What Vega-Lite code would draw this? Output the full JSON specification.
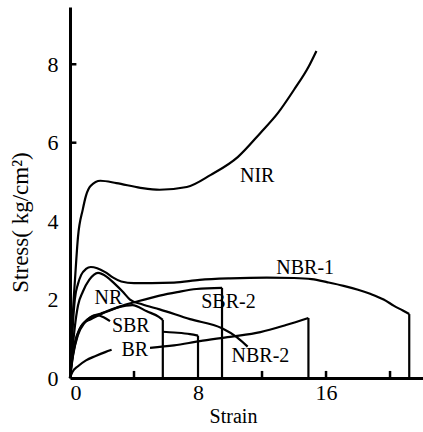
{
  "$schema": "https://vega.github.io/schema/vega-lite/v6.json",
  "width": 353,
  "height": 371,
  "autosize": {"type": "none"},
  "padding": {"left": 70, "top": 7, "right": 0, "bottom": 54},
  "background": "white",
  "config": {
    "view": {"stroke": null},
    "font": "Liberation Serif, DejaVu Serif, serif",
    "axis": {
      "grid": false,
      "ticks": false,
      "tickSize": 0,
      "domainColor": "black",
      "domainWidth": 3,
      "labelColor": "black",
      "labelFont": "Liberation Serif, DejaVu Serif, serif",
      "labelFontSize": 22,
      "titleColor": "black",
      "titleFont": "Liberation Serif, DejaVu Serif, serif",
      "titleFontWeight": "normal"
    }
  },
  "datasets": {
    "curves": [
      {"c": "NIR", "x": 0, "y": 0},
      {"c": "NIR", "x": 0.1, "y": 0.9},
      {"c": "NIR", "x": 0.2, "y": 1.8},
      {"c": "NIR", "x": 0.31, "y": 2.5},
      {"c": "NIR", "x": 0.5, "y": 3.6},
      {"c": "NIR", "x": 0.8, "y": 4.3},
      {"c": "NIR", "x": 1.0, "y": 4.65},
      {"c": "NIR", "x": 1.3, "y": 4.9},
      {"c": "NIR", "x": 1.9, "y": 5.03},
      {"c": "NIR", "x": 2.9, "y": 4.97},
      {"c": "NIR", "x": 4.4, "y": 4.85},
      {"c": "NIR", "x": 5.6, "y": 4.8},
      {"c": "NIR", "x": 7.3, "y": 4.87},
      {"c": "NIR", "x": 8.8, "y": 5.18},
      {"c": "NIR", "x": 10.5, "y": 5.64},
      {"c": "NIR", "x": 11.9, "y": 6.25},
      {"c": "NIR", "x": 13.0, "y": 6.76},
      {"c": "NIR", "x": 14.0, "y": 7.35},
      {"c": "NIR", "x": 14.9, "y": 7.93},
      {"c": "NIR", "x": 15.4, "y": 8.34},

      {"c": "NBR-1", "x": 0, "y": 0},
      {"c": "NBR-1", "x": 0.1, "y": 0.8},
      {"c": "NBR-1", "x": 0.2, "y": 1.5},
      {"c": "NBR-1", "x": 0.3, "y": 2.0},
      {"c": "NBR-1", "x": 0.5, "y": 2.4},
      {"c": "NBR-1", "x": 0.7, "y": 2.63},
      {"c": "NBR-1", "x": 1.0, "y": 2.78},
      {"c": "NBR-1", "x": 1.3, "y": 2.83},
      {"c": "NBR-1", "x": 1.7, "y": 2.8},
      {"c": "NBR-1", "x": 2.2, "y": 2.7},
      {"c": "NBR-1", "x": 2.7, "y": 2.56},
      {"c": "NBR-1", "x": 3.2, "y": 2.46},
      {"c": "NBR-1", "x": 4.0, "y": 2.42},
      {"c": "NBR-1", "x": 5.1, "y": 2.42},
      {"c": "NBR-1", "x": 6.5, "y": 2.43},
      {"c": "NBR-1", "x": 8.1, "y": 2.5},
      {"c": "NBR-1", "x": 10.0, "y": 2.54},
      {"c": "NBR-1", "x": 12.3, "y": 2.56},
      {"c": "NBR-1", "x": 14.0, "y": 2.55},
      {"c": "NBR-1", "x": 15.1, "y": 2.52},
      {"c": "NBR-1", "x": 16.1, "y": 2.44},
      {"c": "NBR-1", "x": 17.1, "y": 2.35},
      {"c": "NBR-1", "x": 18.0, "y": 2.25},
      {"c": "NBR-1", "x": 18.8, "y": 2.14},
      {"c": "NBR-1", "x": 19.6, "y": 2.0},
      {"c": "NBR-1", "x": 20.25, "y": 1.84},
      {"c": "NBR-1", "x": 20.8, "y": 1.72},
      {"c": "NBR-1", "x": 21.2, "y": 1.63},

      {"c": "NBR-2", "x": 0, "y": 0},
      {"c": "NBR-2", "x": 0.15, "y": 0.7},
      {"c": "NBR-2", "x": 0.3, "y": 1.3},
      {"c": "NBR-2", "x": 0.5, "y": 1.85},
      {"c": "NBR-2", "x": 0.8, "y": 2.2},
      {"c": "NBR-2", "x": 1.2, "y": 2.5},
      {"c": "NBR-2", "x": 1.75, "y": 2.68},
      {"c": "NBR-2", "x": 2.3, "y": 2.58},
      {"c": "NBR-2", "x": 2.8, "y": 2.4},
      {"c": "NBR-2", "x": 3.3, "y": 2.2},
      {"c": "NBR-2", "x": 3.75, "y": 2.0},
      {"c": "NBR-2", "x": 4.5, "y": 1.88},
      {"c": "NBR-2", "x": 5.6, "y": 1.75},
      {"c": "NBR-2", "x": 7.5, "y": 1.5},
      {"c": "NBR-2", "x": 9.5, "y": 1.27},
      {"c": "NBR-2", "x": 10.4, "y": 1.05},
      {"c": "NBR-2", "x": 11.1, "y": 0.8},

      {"c": "SBR-2", "x": 0, "y": 0},
      {"c": "SBR-2", "x": 0.1, "y": 0.4},
      {"c": "SBR-2", "x": 0.3, "y": 0.9},
      {"c": "SBR-2", "x": 0.6, "y": 1.25},
      {"c": "SBR-2", "x": 0.9, "y": 1.42},
      {"c": "SBR-2", "x": 1.3, "y": 1.56},
      {"c": "SBR-2", "x": 1.9, "y": 1.64},
      {"c": "SBR-2", "x": 2.5, "y": 1.72},
      {"c": "SBR-2", "x": 3.1, "y": 1.82},
      {"c": "SBR-2", "x": 4.2, "y": 1.95},
      {"c": "SBR-2", "x": 5.6, "y": 2.1},
      {"c": "SBR-2", "x": 6.7, "y": 2.19},
      {"c": "SBR-2", "x": 7.9, "y": 2.27},
      {"c": "SBR-2", "x": 9.5, "y": 2.3},

      {"c": "NR", "x": 0, "y": 0},
      {"c": "NR", "x": 0.15, "y": 0.5},
      {"c": "NR", "x": 0.4, "y": 1.0},
      {"c": "NR", "x": 0.8, "y": 1.38},
      {"c": "NR", "x": 1.3, "y": 1.5},
      {"c": "NR", "x": 1.8, "y": 1.6},
      {"c": "NR", "x": 2.3, "y": 1.7},
      {"c": "NR", "x": 3.0, "y": 1.8},
      {"c": "NR", "x": 3.9, "y": 1.86},
      {"c": "NR", "x": 4.8, "y": 1.7},
      {"c": "NR", "x": 5.55, "y": 1.56},
      {"c": "NR", "x": 5.8, "y": 1.48},

      {"c": "SBR a", "x": 0, "y": 0},
      {"c": "SBR a", "x": 0.2, "y": 0.6},
      {"c": "SBR a", "x": 0.5, "y": 1.1},
      {"c": "SBR a", "x": 0.9, "y": 1.4},
      {"c": "SBR a", "x": 1.3, "y": 1.55},
      {"c": "SBR a", "x": 1.7, "y": 1.6},
      {"c": "SBR a", "x": 2.1, "y": 1.55},
      {"c": "SBR a", "x": 2.5, "y": 1.45},
      {"c": "SBR b", "x": 5.8, "y": 1.18},
      {"c": "SBR b", "x": 6.5, "y": 1.16},
      {"c": "SBR b", "x": 7.5, "y": 1.12},
      {"c": "SBR b", "x": 8.0, "y": 1.08},

      {"c": "BR a", "x": 0, "y": 0},
      {"c": "BR a", "x": 0.15, "y": 0.15},
      {"c": "BR a", "x": 0.5, "y": 0.3},
      {"c": "BR a", "x": 1.0, "y": 0.45},
      {"c": "BR a", "x": 1.6, "y": 0.56},
      {"c": "BR a", "x": 2.2, "y": 0.66},
      {"c": "BR a", "x": 2.6, "y": 0.72},
      {"c": "BR b", "x": 5.0, "y": 0.77},
      {"c": "BR b", "x": 6.5, "y": 0.83},
      {"c": "BR b", "x": 8.1, "y": 0.94},
      {"c": "BR b", "x": 10.0, "y": 1.05},
      {"c": "BR b", "x": 11.9, "y": 1.17},
      {"c": "BR b", "x": 13.5, "y": 1.35},
      {"c": "BR b", "x": 14.9, "y": 1.53}
    ],
    "drops": [
      {"c": "NBR-1", "x": 21.2, "y": 1.63},
      {"c": "SBR-2", "x": 9.5, "y": 2.3},
      {"c": "NR", "x": 5.8, "y": 1.48},
      {"c": "SBR", "x": 8.0, "y": 1.08},
      {"c": "BR", "x": 14.9, "y": 1.53}
    ],
    "xticks": [
      {"x": 4, "y": 0, "y2": 0.18},
      {"x": 12, "y": 0, "y2": 0.18},
      {"x": 16, "y": 0, "y2": 0.18},
      {"x": 20, "y": 0, "y2": 0.18}
    ],
    "yticks": [
      {"x": 0, "x2": 0.4, "y": 6},
      {"x": 0, "x2": 0.4, "y": 8}
    ],
    "labels": [
      {"label": "NIR", "x": 11.7, "y": 5.15},
      {"label": "NBR-1", "x": 14.7, "y": 2.8},
      {"label": "NR", "x": 2.4, "y": 2.05},
      {"label": "SBR-2", "x": 9.9, "y": 1.94},
      {"label": "SBR", "x": 3.8, "y": 1.33},
      {"label": "BR", "x": 4.05, "y": 0.71},
      {"label": "NBR-2", "x": 11.9, "y": 0.56}
    ]
  },
  "encoding": {
    "x": {
      "field": "x",
      "type": "quantitative",
      "scale": {"domain": [0, 22.06], "nice": false, "zero": false},
      "axis": {
        "values": [0, 8, 16],
        "labelPadding": 4,
        "title": "Strain",
        "titleFontSize": 20,
        "titleX": 163,
        "titleY": 44,
        "titleAlign": "center",
        "titleBaseline": "alphabetic"
      }
    },
    "y": {
      "field": "y",
      "type": "quantitative",
      "scale": {"domain": [0, 9.46], "nice": false, "zero": false},
      "axis": {
        "values": [0, 2, 4, 6, 8],
        "labelPadding": 12,
        "title": "Stress( kg/cm²)",
        "titleFontSize": 23,
        "titleX": -50,
        "titleY": 215,
        "titleAlign": "center",
        "titleBaseline": "middle"
      }
    }
  },
  "layer": [
    {
      "data": {"name": "curves"},
      "mark": {"type": "line", "color": "black", "strokeWidth": 2.2, "interpolate": "monotone"},
      "encoding": {"detail": {"field": "c"}}
    },
    {
      "data": {"name": "drops"},
      "mark": {"type": "rule", "color": "black", "strokeWidth": 2.2},
      "encoding": {"y2": {"datum": 0}}
    },
    {
      "data": {"name": "xticks"},
      "mark": {"type": "rule", "color": "black", "strokeWidth": 2.5},
      "encoding": {"y2": {"field": "y2"}}
    },
    {
      "data": {"name": "yticks"},
      "mark": {"type": "rule", "color": "black", "strokeWidth": 2.5},
      "encoding": {"x2": {"field": "x2"}}
    },
    {
      "data": {"name": "labels"},
      "mark": {"type": "text", "font": "Liberation Serif, DejaVu Serif, serif", "fontSize": 20, "color": "black", "align": "center", "baseline": "middle"},
      "encoding": {"text": {"field": "label"}}
    }
  ]
}
